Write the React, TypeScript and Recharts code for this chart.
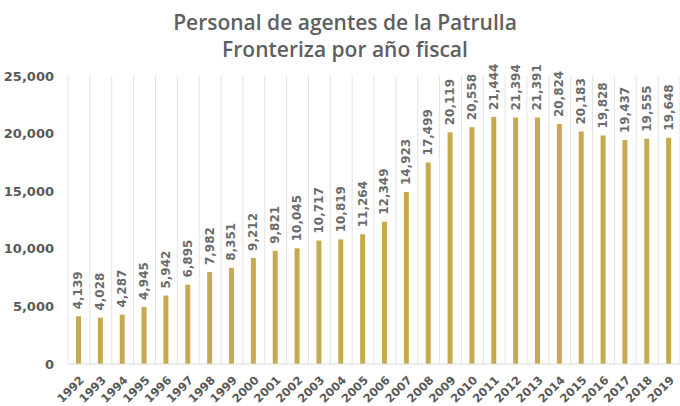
import React from "react";
import { BarChart, Bar, XAxis, YAxis, CartesianGrid, LabelList } from "recharts";

const years = ["1992","1993","1994","1995","1996","1997","1998","1999","2000","2001","2002","2003","2004","2005","2006","2007","2008","2009","2010","2011","2012","2013","2014","2015","2016","2017","2018","2019"];
const agents = [4139,4028,4287,4945,5942,6895,7982,8351,9212,9821,10045,10717,10819,11264,12349,14923,17499,20119,20558,21444,21394,21391,20824,20183,19828,19437,19555,19648];
const yTicks = [0,5000,10000,15000,20000,25000];
const titleLines = ["Personal de agentes de la Patrulla","Fronteriza por año fiscal"];

const data = years.map((y, i) => ({ year: y, value: agents[i] }));
const fmt = (v: number) => v.toLocaleString("en-US");
const FONT = "'DejaVu Sans', sans-serif";

const BarLabel = (props: any) => {
  const { x, y, width, value } = props;
  const cx = Number(x) + Number(width) / 2;
  const cy = Number(y) - 7;
  return (
    <text x={cx} y={cy} transform={`rotate(-90, ${cx}, ${cy})`} textAnchor="start" dominantBaseline="central"
      fill="#6b6b6b" fontSize={12} fontWeight="bold" fontFamily={FONT}>{fmt(value)}</text>
  );
};

const XTick = (props: any) => {
  const { x, y, payload } = props;
  return (
    <text x={x + 3} y={y + 6} transform={`rotate(-45, ${x + 3}, ${y + 6})`} textAnchor="end" dominantBaseline="central"
      fill="#595959" fontSize={11.5} fontWeight="bold" fontFamily={FONT}>{payload.value}</text>
  );
};

const gridGen = ({ offset }: any) => {
  const n = years.length;
  const w = offset.width / n;
  return Array.from({ length: n + 1 }, (_, i) => offset.left + i * w);
};

export default function App() {
  return (
    <div style={{ position: "absolute", left: 0, top: 0, width: 680, height: 406, background: "#fff" }}>
      <div style={{ position: "absolute", left: 0, top: 9, width: 690, textAlign: "center", fontFamily: "'Open Sans', sans-serif", fontSize: 21, fontWeight: 600, color: "#5f5f5f", lineHeight: "27px" }}>
        {titleLines.map((t) => <div key={t}>{t}</div>)}
      </div>
      <BarChart width={680} height={406} data={data} margin={{ top: 76, right: 0, bottom: 0, left: 0 }}>
        <CartesianGrid horizontal={false} vertical={true} stroke="#e3e3e3" verticalCoordinatesGenerator={gridGen} />
        <XAxis dataKey="year" interval={0} tickLine={false} axisLine={{ stroke: "#d9d9d9" }} height={42} tick={<XTick />} />
        <YAxis domain={[0, 25000]} ticks={yTicks} width={68} axisLine={false} tickLine={false}
          tickFormatter={fmt} tick={{ fill: "#595959", fontSize: 13, fontWeight: "bold", fontFamily: FONT }} tickMargin={8} />
        <Bar dataKey="value" fill="#c9a94f" barSize={5} isAnimationActive={false}>
          <LabelList dataKey="value" content={<BarLabel />} />
        </Bar>
      </BarChart>
    </div>
  );
}
